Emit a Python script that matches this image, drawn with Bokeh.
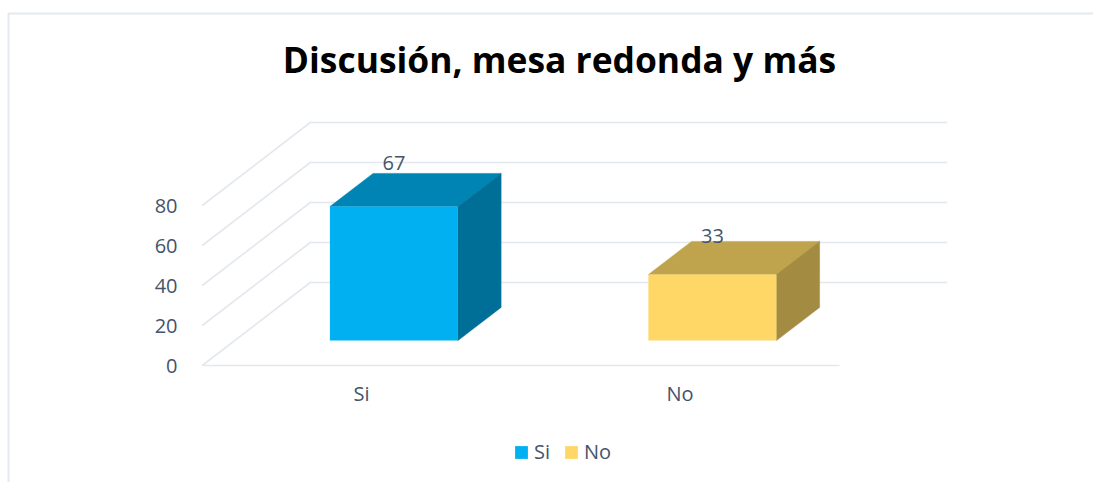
from bokeh.plotting import figure
from bokeh.models import Range1d, FixedTicker, Label, Legend, LegendItem, LinearAxis
from bokeh.embed import file_html
from bokeh.resources import INLINE

title_text = "Discusión, mesa redonda y más"
categories = ["Si", "No"]
values = [67, 33]
y_ticks = [0, 20, 40, 60, 80]
front_colors = ["#00B0F0", "#FFD766"]
top_colors = ["#0084B4", "#BFA44D"]
side_colors = ["#006F97", "#A38C41"]
label_nudge = [5.0, 2.5]

W, H = 1093, 482
GRID = "#E3E7EE"
TXT = "#44546A"

# frame pixel layout: data x 1 -> px 361, 2 -> 679; y 0 -> py 365, 2 px per unit
XU = 318.5
YU = 2.0
x0 = 1 - 361 / XU
x1 = x0 + W / XU
y1 = 365 / YU
y0 = y1 - H / YU

p = figure(width=W, height=H, output_backend="svg", toolbar_location=None,
           x_range=Range1d(x0, x1), y_range=Range1d(y0, y1),
           x_axis_type=None, y_axis_type=None, min_border=0, outline_line_color=None)
p.grid.visible = False

# depth projection, in data units
DX = 108 / XU
DY = 83 / YU
d1, d2 = 0.30, 0.70
half = 64 / XU

# outer page frame
p.line([x0 + 8 / XU, x0 + 8 / XU, x1], [y0, y1 - 13 / YU, y1 - 13 / YU], line_color="#E4E9EF", line_width=2)

# gridlines: wall + back
xa = 0.5
xb = 2.5
for t in y_ticks:
    p.line([xa, xa + DX, xb + DX], [t, t + DY, t + DY], line_color=GRID, line_width=1.6)

fronts = []
for i, (v, fc, tc, sc) in enumerate(zip(values, front_colors, top_colors, side_colors)):
    c = i + 1
    xl = c - half + d1 * DX
    xr = c + half + d1 * DX
    yb = d1 * DY
    yt = v + d1 * DY
    ddx = (d2 - d1) * DX
    ddy = (d2 - d1) * DY
    p.patch([xl, xr, xr + ddx, xl + ddx], [yt, yt, yt + ddy, yt + ddy], fill_color=tc, line_color=tc, line_width=0.5)
    p.patch([xr, xr + ddx, xr + ddx, xr], [yb, yb + ddy, yt + ddy, yt], fill_color=sc, line_color=sc, line_width=0.5)
    r = p.quad(left=[xl], right=[xr], bottom=[yb], top=[yt], fill_color=fc, line_color=None)
    fronts.append(r)
    p.text([c + d1 * DX], [yt + ddy + label_nudge[i]], text=[str(v)], text_color=TXT, text_font_size="20px",
           text_font={"value": "Open Sans"}, text_align="center", text_baseline="alphabetic")

xax = LinearAxis(ticker=FixedTicker(ticks=[1, 2]), major_label_overrides={1: "Si", 2: "No"},
                 fixed_location=0, bounds=(xa, xb), axis_line_color=GRID, axis_line_width=1.6,
                 major_tick_line_color=None, minor_tick_line_color=None,
                 major_label_text_color=TXT, major_label_text_font="Open Sans",
                 major_label_text_font_size="20px", major_label_standoff=8)
p.add_layout(xax, "below")
yax = LinearAxis(ticker=FixedTicker(ticks=y_ticks), fixed_location=x0 + 183 / XU,
                 axis_line_color=None, major_tick_line_color=None, minor_tick_line_color=None,
                 major_label_text_color=TXT, major_label_text_font="Open Sans",
                 major_label_text_font_size="20px", major_label_standoff=0)
p.add_layout(yax, "left")

p.add_layout(Label(x=559, y=H - 58.5, x_units="screen", y_units="screen", text=title_text,
                   text_font="Open Sans", text_font_style="bold", text_font_size="35.4px",
                   text_color="#000000", text_align="center", text_baseline="middle"))

legend = Legend(items=[LegendItem(label=c, renderers=[r]) for c, r in zip(categories, fronts)],
                orientation="horizontal", location=(513, H - 465), margin=0, padding=0, spacing=9,
                glyph_width=16, glyph_height=16, label_standoff=5, background_fill_alpha=0, border_line_color=None,
                label_text_color=TXT, label_text_font="Open Sans", label_text_font_size="20px")
p.add_layout(legend, "center")

open("out.html", "w").write(file_html(p, INLINE))
